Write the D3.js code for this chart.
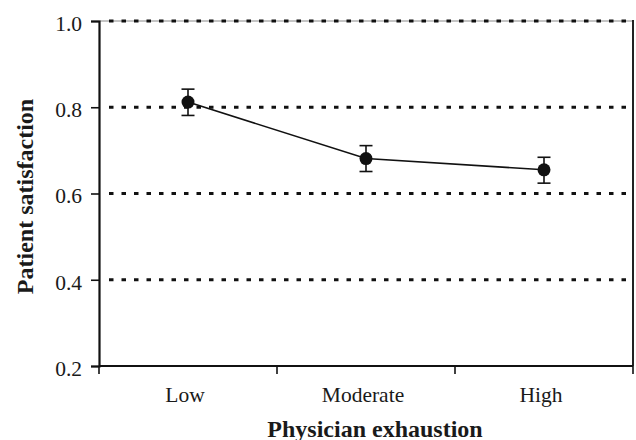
<!DOCTYPE html>
<html>
<head>
<meta charset="utf-8">
<script src="https://cdn.jsdelivr.net/npm/d3@7"></script>
<style>
  html, body { margin: 0; padding: 0; background: #fff; }
  svg { display: block; }
  text { font-family: "Liberation Serif", "Times New Roman", serif; fill: #1a1a1a; }
</style>
</head>
<body>
<svg id="chart" width="636" height="440"></svg>
<script>
const categories = ["Low", "Moderate", "High"];
const means = [0.812, 0.681, 0.655];
const lowerCI = [0.781, 0.651, 0.624];
const upperCI = [0.842, 0.711, 0.684];
const yTicks = [0.2, 0.4, 0.6, 0.8, 1.0];
const xTitle = "Physician exhaustion";
const yTitle = "Patient satisfaction";

(function () {
const svg = d3.select("#chart");
const mLeft = 99, mRight = 633, mTop = 21, mBottom = 366;

const x = d3.scaleBand().domain(categories).range([mLeft, mRight]).padding(0);
const y = d3.scaleLinear().domain([0.2, 1.0]).range([mBottom, mTop]);

const grid = yTicks.filter(t => t > 0.2);
svg.append("line")
  .attr("x1", mLeft).attr("x2", mRight)
  .attr("y1", y(1.0)).attr("y2", y(1.0))
  .attr("stroke", "#8a8a8a").attr("stroke-width", 1.2);
svg.selectAll("line.grid").data(grid).enter().append("line")
  .attr("class", "grid")
  .attr("x1", mLeft + 10).attr("x2", mRight)
  .attr("y1", d => y(d)).attr("y2", d => y(d))
  .attr("stroke", "#111").attr("stroke-width", 3)
  .attr("stroke-dasharray", "4.5,8");

svg.append("line")
  .attr("x1", mRight).attr("x2", mRight)
  .attr("y1", y(1.0) - 1).attr("y2", mBottom)
  .attr("stroke", "#222").attr("stroke-width", 2);

const yAxis = d3.axisLeft(y).tickValues(yTicks).tickFormat(d3.format(".1f")).tickSize(8).tickPadding(9);
const gy = svg.append("g").attr("transform", `translate(${mLeft},0)`).call(yAxis);
gy.select(".domain").attr("stroke", "#111").attr("stroke-width", 2.2);
gy.selectAll(".tick line").attr("stroke", "#111").attr("stroke-width", 1.6);
gy.selectAll(".tick text")
  .attr("font-size", "21.5px")
  .attr("font-family", "Liberation Serif, Times New Roman, serif")
  .attr("fill", "#1a1a1a")
  .attr("dy", "0.44em");

const gx = svg.append("g");
gx.append("line")
  .attr("x1", mLeft).attr("x2", mRight)
  .attr("y1", mBottom).attr("y2", mBottom)
  .attr("stroke", "#111").attr("stroke-width", 2);
const bounds = categories.map(c => x(c)).concat([x(categories[categories.length - 1]) + x.bandwidth()]);
gx.selectAll("line.xt").data(bounds).enter().append("line")
  .attr("class", "xt")
  .attr("x1", d => d).attr("x2", d => d)
  .attr("y1", mBottom).attr("y2", mBottom + 8)
  .attr("stroke", "#111").attr("stroke-width", 1.6);
gx.selectAll("text.xl").data(categories).enter().append("text")
  .attr("class", "xl")
  .attr("x", d => x(d) + x.bandwidth() / 2 - 3)
  .attr("y", 401.5)
  .attr("text-anchor", "middle")
  .attr("font-size", "21.5px")
  .text(d => d);

const pts = categories.map((c, i) => ({ c, m: means[i], lo: lowerCI[i], hi: upperCI[i] }));
const cx = d => x(d.c) + x.bandwidth() / 2;
const line = d3.line().x(cx).y(d => y(d.m));
svg.append("path").datum(pts)
  .attr("d", line)
  .attr("fill", "none").attr("stroke", "#111").attr("stroke-width", 1.6);

const eb = svg.selectAll("g.eb").data(pts).enter().append("g").attr("class", "eb");
eb.append("line")
  .attr("x1", cx).attr("x2", cx)
  .attr("y1", d => y(d.lo)).attr("y2", d => y(d.hi))
  .attr("stroke", "#111").attr("stroke-width", 1.6);
["lo", "hi"].forEach(k => {
  eb.append("line")
    .attr("x1", d => cx(d) - 6.5).attr("x2", d => cx(d) + 6.5)
    .attr("y1", d => y(d[k])).attr("y2", d => y(d[k]))
    .attr("stroke", "#111").attr("stroke-width", 1.6);
});
eb.append("circle")
  .attr("cx", cx)
  .attr("cy", d => y(d.m))
  .attr("r", 6.5)
  .attr("fill", "#111");

svg.append("text")
  .attr("x", 375).attr("y", 436.5)
  .attr("text-anchor", "middle")
  .attr("font-size", "24px").attr("font-weight", "bold")
  .text(xTitle);
svg.append("text")
  .attr("transform", "translate(33,196.5) rotate(-90)")
  .attr("text-anchor", "middle")
  .attr("font-size", "24px").attr("font-weight", "bold")
  .text(yTitle);
})();
</script>
</body>
</html>
